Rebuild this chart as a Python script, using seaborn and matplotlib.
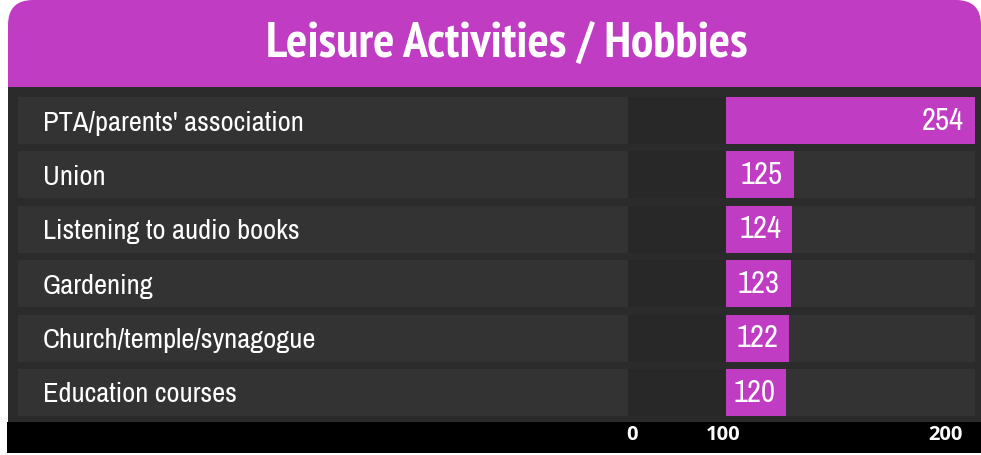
#!/usr/bin/env python3

import matplotlib
matplotlib.use('Agg')
import matplotlib.pyplot as plt
from matplotlib import font_manager
from matplotlib.colors import to_rgb
from matplotlib.patches import FancyBboxPatch, Rectangle
import numpy as np
import pandas as pd
import seaborn as sns


TITLE = 'Leisure Activities / Hobbies'
ACTIVITIES = ["PTA/parents' association", 'Union', 'Listening to audio books',
              'Gardening', 'Church/temple/synagogue', 'Education courses']
COUNTS = [254, 125, 124, 123, 122, 120]
TICK_LABELS = ['0', '100', '200']

W, H = 981, 455  # Pixels
PURPLE = '#c03cc3'
PANEL = '#2b2b2b'
ROW = '#333333'
ROW_DARK = '#282828'

# Layout in pixels (top-left origin)
BAR_X0, BAR_X1 = 726, 975
ROW_X0, DARK_X0 = 18, 628
ROW_C0, PITCH, ROW_H = 120.5, 54.4, 47
LABEL_X = 43
TICK_PX = [632, 723, 945]


def narrow_font(weight):
    """Find an installed condensed/narrow face, fall back to Roboto."""
    names = []
    for f in font_manager.fontManager.ttflist:
        narrow = ('Narrow' in f.name or 'Condensed' in f.name
                  or f.stretch in ('condensed', 'semi-condensed', 'extra-condensed', 600, 700, 500))
        if not narrow:
            continue
        bold = f.weight in ('bold', 700, 'semibold', 600, 'heavy', 800, 'demibold')
        if bold == (weight == 'bold') and f.style == 'normal':
            names.append(f)
    if names:
        names.sort(key=lambda f: ('Narrow' not in f.name, f.name))
        return font_manager.FontProperties(fname=names[0].fname)
    return font_manager.FontProperties(family=['Roboto', 'DejaVu Sans'], weight=weight)


def px_box(x0, y0, x1, y1):
    """Pixel box -> figure fraction rect."""
    return [x0 / W, 1 - y1 / H, (x1 - x0) / W, (y1 - y0) / H]


def main():
    df = pd.DataFrame(dict(activity=ACTIVITIES, count=COUNTS))
    n = len(df)
    reg = narrow_font('normal')
    bold = narrow_font('bold')

    fig = plt.figure(figsize=(W / 100, H / 100), dpi=100, facecolor='white')

    # Background: title box, panel, gradient separators
    bg = fig.add_axes([0, 0, 1, 1])
    bg.axis('off')
    bg.add_patch(FancyBboxPatch((8, 0), W - 8, 120, boxstyle='round,pad=0,rounding_size=25',
                                fc=PURPLE, ec='none'))
    bg.add_patch(Rectangle((8, 87), W - 8, 422 - 87, fc=PANEL, ec='none'))
    tp = bold.copy()
    tp.set_size(36)
    bg.text(507, 44, TITLE, ha='center', va='center', color='white', fontproperties=tp)

    xs = np.arange(8, W)
    shape = np.exp(-((xs - 500) / 240.0) ** 2)
    peaks = np.linspace(0.14, 0.89, n + 1)
    tops = [ROW_C0 + PITCH * i - ROW_H / 2 for i in range(n)]
    bottoms = [t + ROW_H for t in tops]
    spans = [(87, tops[0])] + [(bottoms[i], tops[i + 1]) for i in range(n - 1)] + [(bottoms[-1], 422)]
    for (y0, y1), peak in zip(spans, peaks):
        img = np.zeros((1, len(xs), 4))
        img[..., :3] = to_rgb(PURPLE)
        img[..., 3] = peak * shape
        bg.imshow(img, extent=(8, W, y1, y0), aspect='auto', interpolation='bilinear')
    bg.set_xlim(0, W)
    bg.set_ylim(H, 0)

    # Bars
    y_top = ROW_C0 - PITCH / 2
    y_bot = ROW_C0 + PITCH * (n - 0.5)
    ax = fig.add_axes(px_box(BAR_X0, y_top, BAR_X1, y_bot))
    sns.barplot(data=df, x='count', y='activity', orient='h', color=PURPLE,
                saturation=1, width=ROW_H / PITCH, ax=ax, zorder=2)
    ax.set_xlim(77, max(COUNTS))
    ax.set_ylim(n - 0.5, -0.5)
    ax.set_facecolor('none')
    for s in ax.spines.values():
        s.set_visible(False)
    ax.set_xticks([])
    ax.set(xlabel='', ylabel='')

    def fx(px):
        return (px - BAR_X0) / (BAR_X1 - BAR_X0)

    tr = ax.get_yaxis_transform()
    hh = ROW_H / PITCH / 2
    for i in range(n):
        ax.add_patch(Rectangle((fx(ROW_X0), i - hh), fx(BAR_X1) - fx(ROW_X0), 2 * hh,
                               transform=tr, clip_on=False, fc=ROW, ec='none', zorder=0.1))
        ax.add_patch(Rectangle((fx(DARK_X0), i - hh), fx(BAR_X0) - fx(DARK_X0), 2 * hh,
                               transform=tr, clip_on=False, fc=ROW_DARK, ec='none', zorder=0.2))

    ax.tick_params(axis='y', length=0, pad=(BAR_X0 - LABEL_X) * 0.72, labelcolor='white')
    lp = reg.copy()
    lp.set_size(20.5)
    for lbl in ax.get_yticklabels():
        lbl.set_ha('left')
        lbl.set_fontproperties(lp)

    vp = reg.copy()
    vp.set_size(22)
    texts = ax.bar_label(ax.containers[0], labels=[str(v) for v in COUNTS],
                         padding=-11 * 0.72, color='white', fontproperties=vp)
    for t in texts:
        t.set_ha('right')
        t.set_va('center')

    # Bottom axis strip
    strip = fig.add_axes(px_box(7, 422, W, 453))
    strip.set_facecolor('black')
    strip.set_xlim(7, W)
    strip.set_yticks([])
    for s in strip.spines.values():
        s.set_visible(False)
    strip.set_xticks(TICK_PX, TICK_LABELS)
    strip.tick_params(axis='x', length=0, pad=-12.6, labelsize=14.5, labelcolor='white')
    for lbl in strip.get_xticklabels():
        lbl.set_va('center')
        lbl.set_family(['Open Sans', 'DejaVu Sans'])
        lbl.set_fontweight('bold')

    fig.savefig('out.png', dpi=100, facecolor='white')


if __name__ == '__main__':
    main()
